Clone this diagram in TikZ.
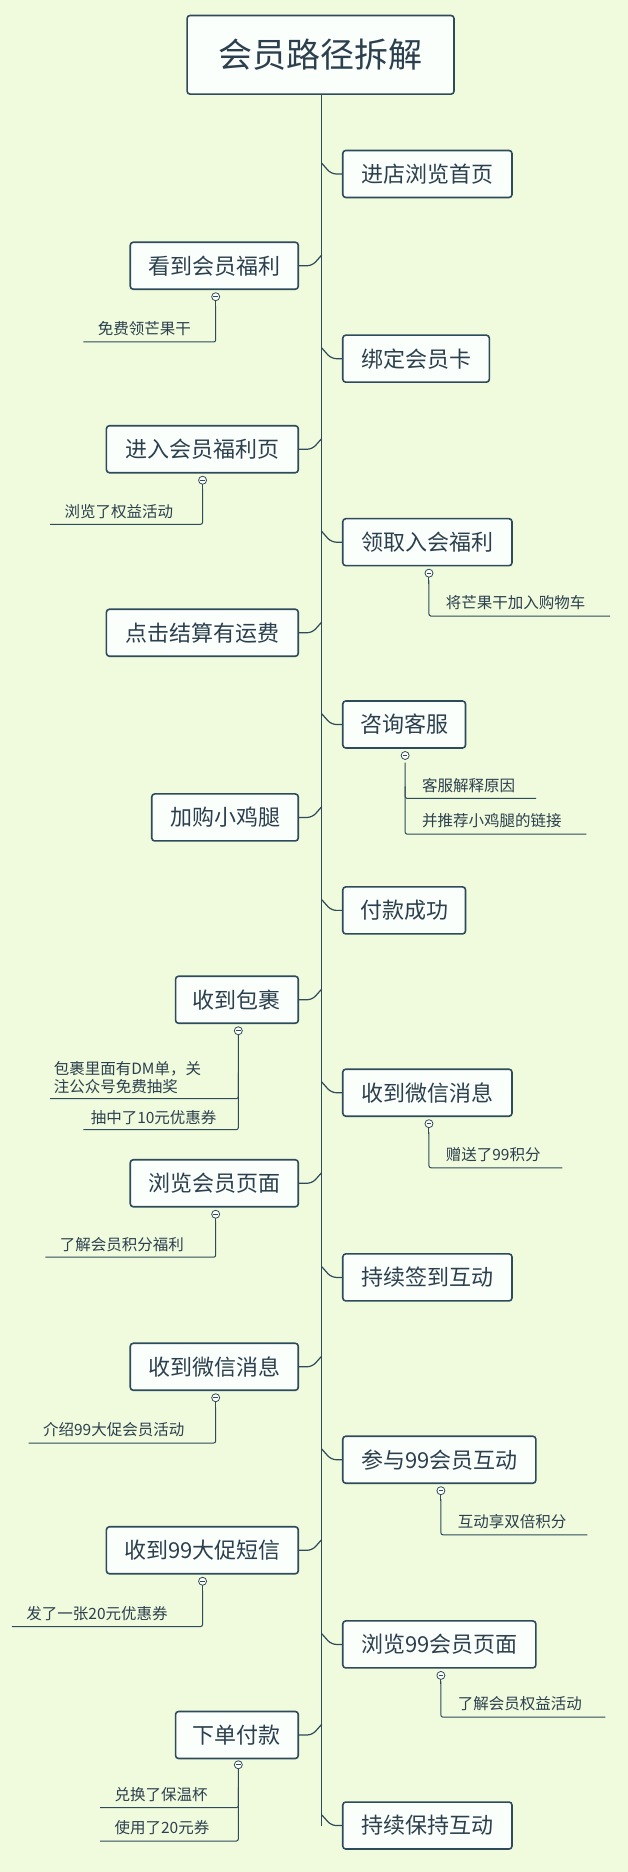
\documentclass[tikz,border=0pt]{standalone}
\usepackage{fontspec}
\setmainfont{Noto Sans CJK SC}
\begin{document}
\begin{tikzpicture}[x=1.1917pt,y=-1.1917pt,
  box/.style={draw=linec, line width=1.6pt, fill=white!92!green!20, rounded corners=3pt, inner sep=0pt, minimum height=47pt, text=textc, font=\fontsize{22}{22}\selectfont},
  conn/.style={draw=linec, line width=1.2pt, rounded corners=5pt},
  sub/.style={draw=linec, line width=1pt},
  subt/.style={text=textc, font=\fontsize{15.5}{18}\selectfont, inner sep=0pt, align=left},
  knob/.style={circle, draw=linec, fill=white, line width=0.8pt, inner sep=0pt, minimum size=8pt, path picture={\draw[linec,line width=0.6pt] ([xshift=-2.3pt]path picture bounding box.center)--([xshift=2.3pt]path picture bounding box.center);}}]
\definecolor{linec}{HTML}{2E4B5C}
\definecolor{textc}{HTML}{2B3F4E}
\definecolor{bgc}{HTML}{F0FADD}
\fill[bgc] (0,0) rectangle (527,1571);
\useasboundingbox (0,0) rectangle (527,1571);
\newcommand\RB[4]{\node[box, minimum width={(#3-287)*1.1917pt}, anchor=west] (#1) at (287,#2) {#4};
  \draw[conn] (#1.west) -- (278,#2) -- (270,#2-9);}
\newcommand\LB[4]{\node[box, minimum width={(251-#3)*1.1917pt}, anchor=east] (#1) at (251,#2) {#4};
  \draw[conn] (#1.east) -- (262,#2) -- (270,#2-9);}
% root
\node[box, minimum width={224*1.1917pt}, minimum height={66*1.1917pt}, font=\fontsize{34}{34}\selectfont] (root) at (269,46) {会员路径拆解};
\coordinate (spEnd) at (270,1532);
\draw[sub, line width=1.3pt] (root.south -| spEnd) -- (spEnd);
% right
\RB{r1}{146}{429}{进店浏览首页}
\RB{r2}{301}{410}{绑定会员卡}
\RB{r3}{455}{429}{领取入会福利}
\RB{r4}{608}{390}{咨询客服}
\RB{r5}{764}{390}{付款成功}
\RB{r6}{917}{429}{收到微信消息}
\RB{r7}{1072}{429}{持续签到互动}
\RB{r8}{1225}{449}{参与99会员互动}
\RB{r9}{1380}{449}{浏览99会员页面}
\RB{r10}{1532}{429}{持续保持互动}
% left
\LB{l1}{223}{110}{看到会员福利}
\LB{l2}{377}{90}{进入会员福利页}
\LB{l3}{531}{90}{点击结算有运费}
\LB{l4}{686}{128}{加购小鸡腿}
\LB{l5}{839}{148}{收到包裹}
\LB{l6}{993}{110}{浏览会员页面}
\LB{l7}{1147}{110}{收到微信消息}
\LB{l8}{1301}{90}{收到99大促短信}
\LB{l9}{1456}{148}{下单付款}
\newcommand\RC[5]{\draw[sub, rounded corners=2pt] (#2,#3-30) |- (#4,#3);
  \node[subt, anchor=base west] at (#2+14,#3-6) {#5};}
\newcommand\LC[5]{\draw[sub, rounded corners=2pt] (#2,#3-30) |- (#4,#3);
  \node[subt, anchor=base west] at (#4+12,#3-6) {#5};}
\newcommand\KN[3]{\node[knob] (#1) at (#2,#3) {};}
\RC{r3}{360}{517}{512}{将芒果干加入购物车}
\draw[sub] (360,482) -- (360,490);
\KN{k3}{360}{481}
\draw[sub, rounded corners=2pt] (340,640) |- (450,670);
\draw[sub, rounded corners=2pt] (340,660) |- (492,700);
\node[subt, anchor=base west] at (354,664) {客服解释原因};
\node[subt, anchor=base west] at (354,694) {并推荐小鸡腿的链接};
\KN{k4}{340}{634}
\RC{r6}{360}{980}{472}{赠送了99积分}
\draw[sub] (360,944) -- (360,952);
\KN{k6}{360}{943}
\RC{r8}{370}{1288}{493}{互动享双倍积分}
\draw[sub] (370,1252) -- (370,1260);
\KN{k8}{370}{1251}
\RC{r9}{370}{1441}{508}{了解会员权益活动}
\draw[sub] (370,1407) -- (370,1413);
\KN{k9}{370}{1406}
\LC{l1}{181}{287}{70}{免费领芒果干}
\draw[sub] (181,250) -- (181,258);
\KN{k1}{181}{249}
\LC{l2}{170}{440}{42}{浏览了权益活动}
\draw[sub] (170,404) -- (170,412);
\KN{k2}{170}{403}
\draw[sub, rounded corners=2pt] (200,866) |- (42,922);
\draw[sub, rounded corners=2pt] (200,900) |- (70,948);
\node[subt, anchor=south west] at (45,918) {包裹里面有DM单，关\\注公众号免费抽奖};
\node[subt, anchor=base west] at (76,943) {抽中了10元优惠券};
\KN{k5}{200}{865}
\LC{l6}{181}{1055}{38}{了解会员积分福利}
\draw[sub] (181,1020) -- (181,1026);
\KN{k6l}{181}{1019}
\LC{l7}{181}{1211}{24}{介绍99大促会员活动}
\draw[sub] (181,1174) -- (181,1182);
\KN{k7}{181}{1173}
\LC{l8}{170}{1365}{10}{发了一张20元优惠券}
\draw[sub] (170,1328) -- (170,1336);
\KN{k8l}{170}{1327}
\draw[sub, rounded corners=2pt] (200,1482) |- (84,1517);
\draw[sub, rounded corners=2pt] (200,1500) |- (84,1545);
\node[subt, anchor=base west] at (96,1511) {兑换了保温杯};
\node[subt, anchor=base west] at (96,1539) {使用了20元券};
\KN{k9l}{200}{1481}
\end{tikzpicture}
\end{document}
